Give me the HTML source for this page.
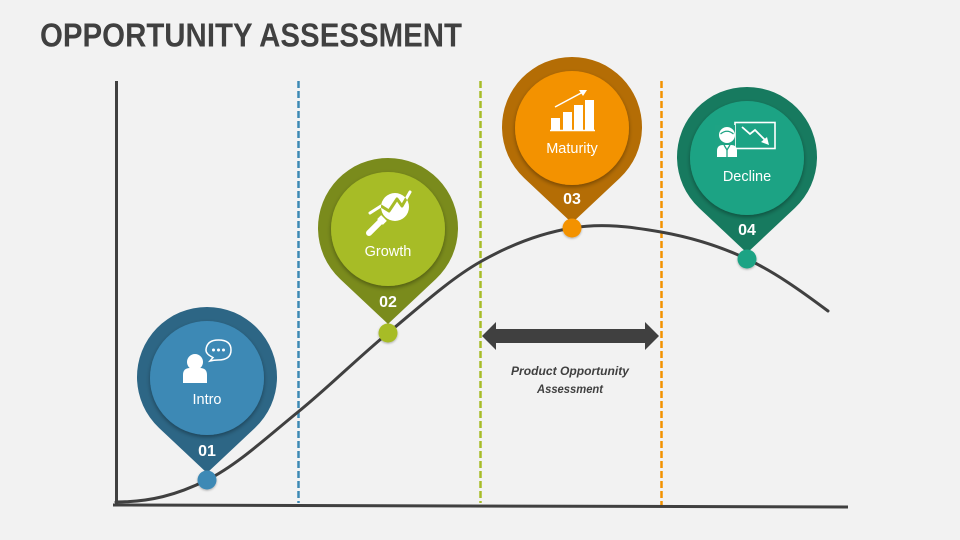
<!DOCTYPE html>
<html><head><meta charset="utf-8"><style>
html,body{margin:0;padding:0;background:#F2F2F2;}
svg{display:block;}
text{font-family:"Liberation Sans",sans-serif;}
</style></head><body>
<svg width="960" height="540" viewBox="0 0 960 540" xmlns="http://www.w3.org/2000/svg">
<defs>
<filter id="sh" x="-20%" y="-20%" width="140%" height="150%">
<feDropShadow dx="0" dy="2" stdDeviation="2" flood-color="#000" flood-opacity="0.35"/>
</filter>
<filter id="sh2" x="-50%" y="-50%" width="200%" height="200%">
<feDropShadow dx="0" dy="1" stdDeviation="1" flood-color="#000" flood-opacity="0.3"/>
</filter>
<clipPath id="magc"><circle cx="395" cy="207" r="14"/></clipPath>
</defs>
<rect width="960" height="540" fill="#F2F2F2"/>
<text x="40" y="46.5" font-size="33" font-weight="bold" fill="#404040" textLength="422" lengthAdjust="spacingAndGlyphs">OPPORTUNITY ASSESSMENT</text>

<!-- dashed lines -->
<line x1="298.5" y1="81" x2="298.5" y2="503" stroke="#3D89B5" stroke-width="2.5" stroke-dasharray="7,3"/>
<line x1="480.5" y1="81" x2="480.5" y2="503" stroke="#A7BC27" stroke-width="2.5" stroke-dasharray="7,3"/>
<line x1="661.5" y1="81" x2="661.5" y2="505" stroke="#F39200" stroke-width="2.5" stroke-dasharray="7,3"/>

<!-- axes -->
<line x1="116.5" y1="81" x2="116.5" y2="506" stroke="#404040" stroke-width="3"/>
<line x1="113" y1="505" x2="848" y2="507" stroke="#404040" stroke-width="3"/>

<!-- curve -->
<path d="M116,502 C150,502 176.7,495 207,480 C237.3,465 267.8,436.5 298,412 C328.2,387.5 357.7,358 388,333 C418.3,308 449.3,279.5 480,262 C510.7,244.5 541.8,233 572,228 C602.2,223 631.8,226.8 661,232 C690.2,237.2 719.2,245.8 747,259 C774.8,272.2 800,290 828,311" fill="none" stroke="#404040" stroke-width="3" stroke-linecap="round"/>

<!-- double arrow -->
<polygon points="482,336 496,322 496,329 645,329 645,322 659,336 645,350 645,343 496,343 496,350" fill="#404040"/>
<text x="570" y="375" font-size="12" font-weight="bold" font-style="italic" fill="#404040" text-anchor="middle" textLength="118" lengthAdjust="spacingAndGlyphs">Product Opportunity</text>
<text x="570" y="393" font-size="12" font-weight="bold" font-style="italic" fill="#404040" text-anchor="middle" textLength="66" lengthAdjust="spacingAndGlyphs">Assessment</text>

<!-- PIN 1 Intro -->
<g>
<path d="M159.1,428 A70,70 0 1 1 254.9,428 L207,473 Z" fill="#2D6685"/>
<circle cx="207" cy="378" r="57" fill="#3D89B5" filter="url(#sh)"/>
<circle cx="207" cy="480" r="9.5" fill="#3D89B5" filter="url(#sh2)"/>
<circle cx="195" cy="362" r="8" fill="#fff"/>
<path d="M183,383 L183,375 Q183,368 190,368 L200,368 Q207,368 207,375 L207,383 Z" fill="#fff"/>
<path d="M210,361 L213,357.5 Q205.5,354 206,349.5 Q207,340 218.5,340 Q231,340 231,350 Q231,360 218,360 Q214,360 210,361 Z" fill="none" stroke="#fff" stroke-width="1.5"/>
<circle cx="213.5" cy="350" r="1.5" fill="#fff"/>
<circle cx="218.5" cy="350" r="1.5" fill="#fff"/>
<circle cx="223.5" cy="350" r="1.5" fill="#fff"/>
<text x="207" y="404" font-size="14.5" fill="#fff" text-anchor="middle">Intro</text>
<text x="207" y="456" font-size="16" font-weight="bold" fill="#fff" text-anchor="middle">01</text>
</g>

<!-- PIN 2 Growth -->
<g>
<path d="M340.1,279 A70,70 0 1 1 435.9,279 L388,324 Z" fill="#7A8B1C"/>
<circle cx="388" cy="229" r="57" fill="#A7BC27" filter="url(#sh)"/>
<circle cx="388" cy="333" r="9.5" fill="#A7BC27" filter="url(#sh2)"/>
<line x1="369" y1="233" x2="380" y2="222" stroke="#fff" stroke-width="6" stroke-linecap="round"/>
<line x1="380" y1="222" x2="384" y2="218" stroke="#fff" stroke-width="8"/>
<circle cx="395" cy="207" r="14" fill="#fff"/>
<polyline points="370,213 381,206 389,211 397,199 402,206 410,192" fill="none" stroke="#fff" stroke-width="3" stroke-linejoin="round" stroke-linecap="round"/>
<polyline points="370,213 381,206 389,211 397,199 402,206 410,192" fill="none" stroke="#A7BC27" stroke-width="3" stroke-linejoin="round" clip-path="url(#magc)"/>
<text x="388" y="256" font-size="14.5" fill="#fff" text-anchor="middle">Growth</text>
<text x="388" y="307" font-size="16" font-weight="bold" fill="#fff" text-anchor="middle">02</text>
</g>

<!-- PIN 3 Maturity -->
<g>
<path d="M524.1,178 A70,70 0 1 1 619.9,178 L572,223 Z" fill="#B46D05"/>
<circle cx="572" cy="128" r="57" fill="#F39200" filter="url(#sh)"/>
<circle cx="572" cy="228" r="9.5" fill="#F39200" filter="url(#sh2)"/>
<rect x="551" y="118" width="9" height="12" fill="#fff"/>
<rect x="563" y="112" width="9" height="18" fill="#fff"/>
<rect x="574" y="105" width="9" height="25" fill="#fff"/>
<rect x="585" y="100" width="9" height="30" fill="#fff"/>
<line x1="550" y1="130.5" x2="595" y2="130.5" stroke="#fff" stroke-width="1.5"/>
<line x1="555" y1="107" x2="583" y2="92" stroke="#fff" stroke-width="1.5"/>
<polygon points="587,90 579,90 583,96" fill="#fff"/>
<text x="572" y="153" font-size="14.5" fill="#fff" text-anchor="middle">Maturity</text>
<text x="572" y="204" font-size="16" font-weight="bold" fill="#fff" text-anchor="middle">03</text>
</g>

<!-- PIN 4 Decline -->
<g>
<path d="M699.1,208 A70,70 0 1 1 794.9,208 L747,253 Z" fill="#177A5F"/>
<circle cx="747" cy="158" r="57" fill="#1EA384" filter="url(#sh)"/>
<circle cx="747" cy="259" r="9.5" fill="#1EA384" filter="url(#sh2)"/>
<rect x="735" y="122.5" width="40" height="26" fill="none" stroke="#fff" stroke-width="1.6"/>
<polyline points="742,127 750,134 755,130 766,141" fill="none" stroke="#fff" stroke-width="1.8"/>
<polygon points="769,145 761,142 767,137" fill="#fff"/>
<rect x="715" y="125" width="20" height="35" fill="#1EA384"/>
<circle cx="727" cy="135" r="8" fill="#fff"/>
<path d="M720.5,134 Q727,128.5 733.5,134" fill="none" stroke="#1EA384" stroke-width="1.2"/>
<path d="M717,157 L717,151 Q717,145 723,145 L731,145 Q737,145 737,151 L737,157 Z" fill="#fff"/>
<polyline points="724,145 727,150 730,145" fill="none" stroke="#1EA384" stroke-width="1.3"/>
<line x1="727" y1="150" x2="727" y2="157" stroke="#1EA384" stroke-width="1.3"/>
<text x="747" y="181" font-size="14.5" fill="#fff" text-anchor="middle">Decline</text>
<text x="747" y="235" font-size="16" font-weight="bold" fill="#fff" text-anchor="middle">04</text>
</g>
</svg>
</body></html>
